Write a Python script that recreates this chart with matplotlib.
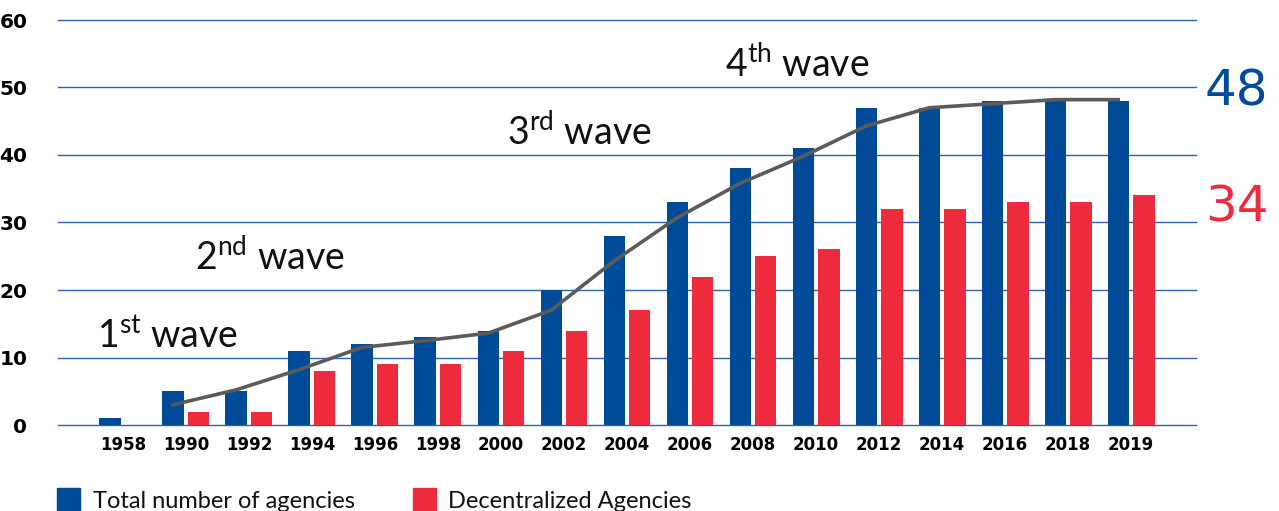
import matplotlib
matplotlib.use("Agg")
import matplotlib.pyplot as plt
import numpy as np
from matplotlib.patches import Rectangle

years = ["1958", "1990", "1992", "1994", "1996", "1998", "2000", "2002", "2004",
         "2006", "2008", "2010", "2012", "2014", "2016", "2018", "2019"]
total = [1, 5, 5, 11, 12, 13, 14, 20, 28, 33, 38, 41, 47, 47, 48, 48, 48]
decentral = [0, 2, 2, 8, 9, 9, 11, 14, 17, 22, 25, 26, 32, 32, 33, 33, 34]
trend = [np.nan, 3, 5.2, 8.2, 11.5, 12.5, 13.6, 17, 24.3, 30.7, 35.8, 39.8,
         44.3, 47, 47.6, 48.2, 48.2]
waves = ["1", "2", "3", "4"]
wave_sup = ["st", "nd", "rd", "th"]
wave_pos = [(-0.41, 11.4), (1.14, 23), (6.1, 41.5), (9.56, 51.5)]

BLUE = "#004b98"
RED = "#ee2b3d"
GRID = "#2d62ab"
LIGHT = "Lato"

fig = plt.figure(figsize=(12.79, 5.11), dpi=100)
ax = fig.add_axes([58 / 1279, 86 / 511, 1138 / 1279, 405 / 511])

x = np.arange(len(years))
w = 0.335
off = 0.205
ax.bar(x - off, total, w, color=BLUE, zorder=3)
ax.bar(x + off, decentral, w, color=RED, zorder=3)
ax.plot(x - off, trend, color="#5b5b5b", lw=2.6, zorder=4)

for v in range(0, 61, 10):
    ax.axhline(v, color=GRID, lw=1.0, zorder=1, clip_on=False)

ax.set_xlim(-1.03, 17.03)
ax.set_ylim(0, 60)
for s in ax.spines.values():
    s.set_visible(False)
ax.set_xticks(x)
ax.set_xticklabels(years, fontfamily="DejaVu Sans", fontweight="bold", fontsize=12)
ax.set_yticks(range(0, 61, 10))
ax.set_yticklabels([str(v) for v in range(0, 61, 10)],
                   fontfamily="DejaVu Sans", fontweight="bold", fontsize=14.5)
ax.tick_params(axis="both", length=0)
ax.tick_params(axis="y", pad=22)
ax.tick_params(axis="x", pad=8)

for n, sup, (wx, wy) in zip(waves, wave_sup, wave_pos):
    ax.text(wx, wy, r"$\mathregular{" + n + "^{" + sup + "}}$ wave",
            fontfamily=LIGHT, fontweight="normal", fontsize=27, va="baseline",
            ha="left", color="#111111")

fig.text(1205 / 1279, 1 - 105 / 511, str(total[-1]), color=BLUE, fontsize=36,
         fontfamily="DejaVu Sans", va="baseline", ha="left")
fig.text(1205 / 1279, 1 - 222 / 511, str(decentral[-1]), color=RED, fontsize=36,
         fontfamily="DejaVu Sans", va="baseline", ha="left")

fig.patches.append(Rectangle((57 / 1279, 0), 23 / 1279, 23 / 511,
                             transform=fig.transFigure, color=BLUE))
fig.patches.append(Rectangle((413 / 1279, 0), 23 / 1279, 23 / 511,
                             transform=fig.transFigure, color=RED))
fig.text(93 / 1279, 3 / 511, "Total number of agencies", fontsize=17,
         fontfamily=LIGHT, fontweight="normal", va="baseline", color="#111111")
fig.text(448 / 1279, 3 / 511, "Decentralized Agencies", fontsize=17,
         fontfamily=LIGHT, fontweight="normal", va="baseline", color="#111111")

fig.savefig("out.png", dpi=100)
